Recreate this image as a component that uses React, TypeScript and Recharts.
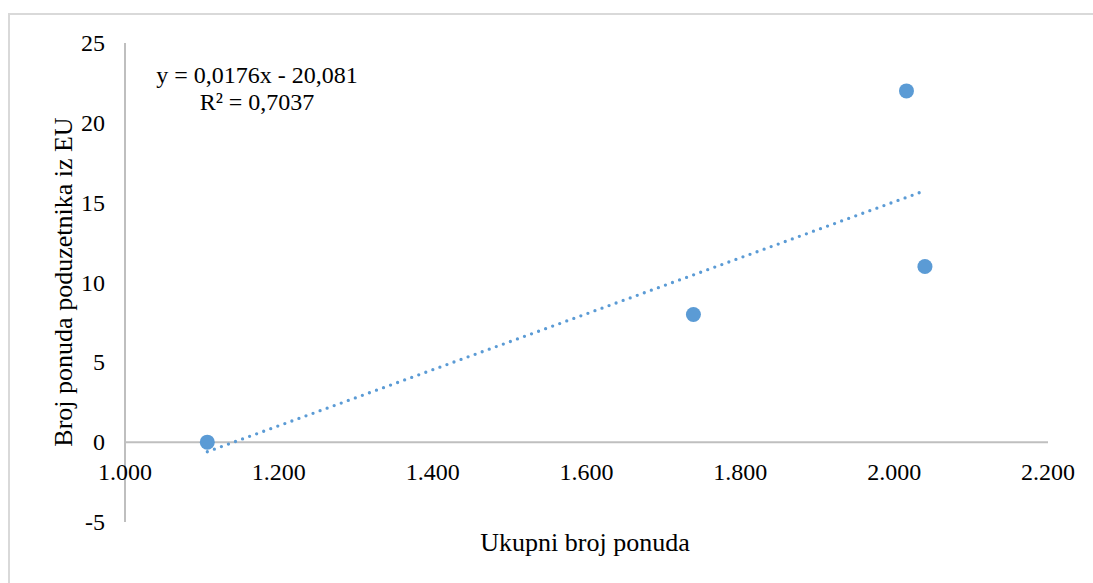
import React from 'react';
import { ScatterChart, Scatter, XAxis, YAxis, ReferenceLine, Customized } from 'recharts';

const totalOffers = [1107, 1739, 2016, 2040];
const euOffers = [0, 8, 22, 11];
const trendX = [1107, 2037];
const trendY = [-0.6, 15.7];
const xTicks = [1000, 1200, 1400, 1600, 1800, 2000, 2200];
const yTicks = [-5, 0, 5, 10, 15, 20, 25];
const equationLines = ['y = 0,0176x - 20,081', 'R² = 0,7037'];

const points = totalOffers.map((x, i) => ({ x, y: euOffers[i] }));
const trend = trendX.map((x, i) => ({ x, y: trendY[i] }));

const FONT = '"Liberation Serif", "Times New Roman", serif';
const BLUE = '#5b9bd5';
const GRID = '#bfbfbf';

const fmtX = (v: number) => (v / 1000).toFixed(3);

const XTick = (props: any) => {
  const { x, y, payload } = props;
  return (
    <text x={x} y={y - 52} textAnchor="middle" dominantBaseline="central" style={{ fontFamily: FONT, fontSize: 24 }} fill="#000">
      {fmtX(payload.value)}
    </text>
  );
};

const YTick = (props: any) => {
  const { x, y, payload } = props;
  return (
    <text x={x} y={y} textAnchor="end" dominantBaseline="central" style={{ fontFamily: FONT, fontSize: 24 }} fill="#000">
      {payload.value}
    </text>
  );
};

const Extras = () => (
  <g style={{ fontFamily: FONT }} fill="#000">
    <text x={247} y={60} textAnchor="middle" dominantBaseline="central" style={{ fontSize: 24 }}>{equationLines[0]}</text>
    <text x={247} y={87} textAnchor="middle" dominantBaseline="central" style={{ fontSize: 24 }}>{equationLines[1]}</text>
    <text x={575} y={527} textAnchor="middle" dominantBaseline="central" style={{ fontSize: 26 }}>Ukupni broj ponuda</text>
    <text transform="translate(53, 267) rotate(-90)" textAnchor="middle" dominantBaseline="central" style={{ fontSize: 26 }}>
      Broj ponuda poduzetnika iz EU
    </text>
  </g>
);

export default function App() {
  return (
    <div
      style={{
        position: 'fixed',
        left: 8,
        top: 13,
        width: 1085,
        height: 570,
        borderTop: '2px solid #d9d9d9',
        borderLeft: '2px solid #d9d9d9',
        background: '#fff',
      }}
    >
      <ScatterChart width={1083} height={568} margin={{ top: 28, right: 45, bottom: 21, left: 0 }}>
        <XAxis
          type="number"
          dataKey="x"
          domain={[1000, 2200]}
          ticks={xTicks}
          axisLine={false}
          tickLine={false}
          tickSize={0}
          tick={<XTick />}
          height={40}
        />
        <YAxis
          type="number"
          dataKey="y"
          domain={[-5, 25]}
          ticks={yTicks}
          width={115}
          axisLine={{ stroke: GRID, strokeWidth: 2 }}
          tickLine={false}
          tickSize={0}
          tickMargin={20}
          tick={<YTick />}
        />
        <ReferenceLine y={0} stroke={GRID} strokeWidth={2} />
        <Scatter
          data={trend}
          line={{ stroke: BLUE, strokeWidth: 3.3, strokeDasharray: '0 7.5', strokeLinecap: 'round' }}
          shape={() => null}
          isAnimationActive={false}
        />
        <Scatter data={points} fill={BLUE} isAnimationActive={false} shape={(p: any) => <circle cx={p.cx} cy={p.cy} r={7.5} fill={BLUE} />} />
        <Customized component={Extras} />
      </ScatterChart>
    </div>
  );
}
